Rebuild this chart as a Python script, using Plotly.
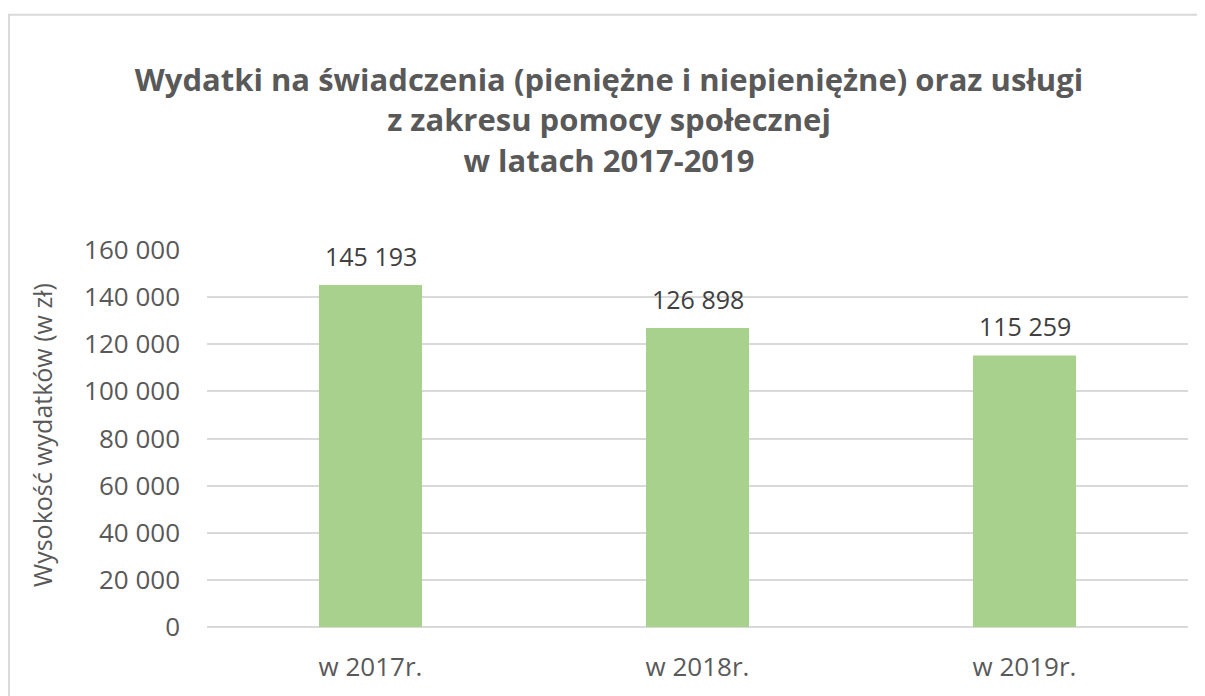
import plotly.graph_objects as go

categories = ["w 2017r.", "w 2018r.", "w 2019r."]
values = [145193, 126898, 115259]
tick_vals = [0, 20000, 40000, 60000, 80000, 100000, 120000, 140000, 160000]
tick_text = ["0", "20 000", "40 000", "60 000", "80 000", "100 000", "120 000", "140 000", "160 000"]
value_labels = ["145 193", "126 898", "115 259"]

FONT = "Open Sans"

fig = go.Figure()
fig.add_trace(go.Bar(
    x=categories, y=values, width=0.315,
    marker=dict(color="#A9D18E", line=dict(width=0)),
    hoverinfo="x+y",
))

for c, v, t in zip(categories, values, value_labels):
    fig.add_annotation(x=c, y=v, text=t, showarrow=False, yanchor="bottom",
                       yshift=10, font=dict(family=FONT, size=25, color="#404040"))

fig.add_annotation(xref="paper", yref="paper", x=-0.168, y=0.51, text="Wysokość wydatków (w zł)",
                   textangle=-90, showarrow=False, xanchor="center", yanchor="middle",
                   font=dict(family=FONT, size=25, color="#595959"))

fig.add_shape(type="rect", xref="paper", yref="paper", x0=-0.2018, x1=1.03, y0=-0.3, y1=1.6237,
              line=dict(color="#D9D9D9", width=2), fillcolor="rgba(0,0,0,0)", layer="below")

W, H = 1197, 688
fig.update_layout(
    width=W, height=H,
    margin=dict(l=199, r=17, t=242, b=66),
    paper_bgcolor="white", plot_bgcolor="white",
    showlegend=False,
    title=dict(
        text="<b>Wydatki na świadczenia (pieniężne i niepieniężne) oraz usługi<br>z zakresu pomocy społecznej<br>w latach 2017-2019</b>",
        x=(609 - 8) / W, xanchor="center", y=1 - (91 - 8) / H, yanchor="middle",
        font=dict(family=FONT, size=31, color="#595959"),
    ),
    xaxis=dict(
        showgrid=False, showline=False, zeroline=False, ticks="",
        tickfont=dict(family=FONT, size=26, color="#595959"),
        ticklabelstandoff=22,
    ),
    yaxis=dict(
        range=[0, 160000], tickvals=tick_vals, ticktext=tick_text,
        showgrid=True, gridcolor="#D9D9D9", gridwidth=1.5,
        zeroline=True, zerolinecolor="#D9D9D9", zerolinewidth=1.5,
        showline=False, ticks="",
        tickfont=dict(family=FONT, size=26, color="#595959"),
        ticklabelstandoff=26,
    ),
)

fig.write_html("out.html")
